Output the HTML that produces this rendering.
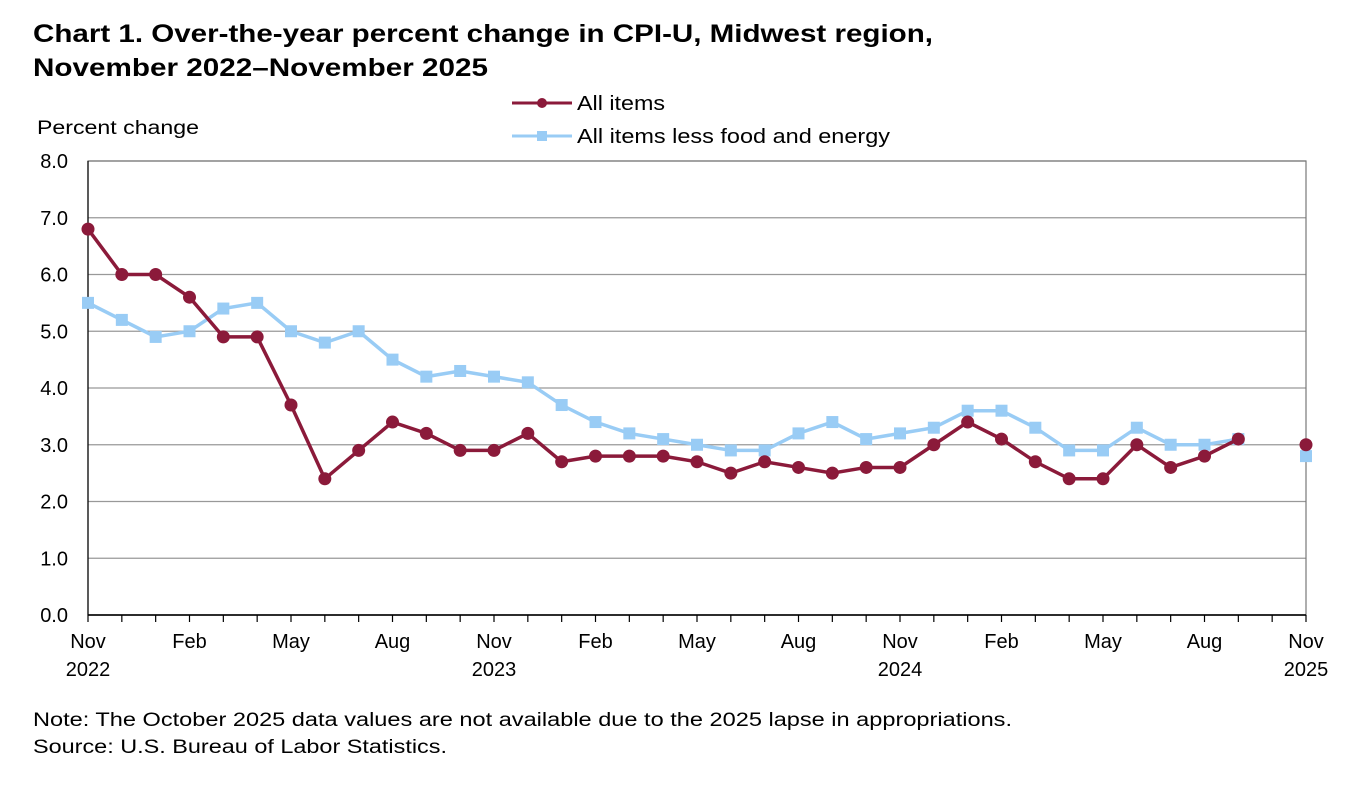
<!DOCTYPE html>
<html><head><meta charset="utf-8"><style>
body{margin:0;background:#fff;width:1366px;height:784px;overflow:hidden;font-family:"Liberation Sans",Arial,sans-serif}
</style></head><body>
<svg width="1366" height="784" font-family="Liberation Sans, Arial, sans-serif">
<text x="33" y="42" font-size="25" font-weight="bold" fill="#000" textLength="900" lengthAdjust="spacingAndGlyphs">Chart 1. Over-the-year percent change in CPI-U, Midwest region,</text>
<text x="33" y="76" font-size="25" font-weight="bold" fill="#000" textLength="455" lengthAdjust="spacingAndGlyphs">November 2022–November 2025</text>
<text x="37" y="134" font-size="19" textLength="162" lengthAdjust="spacingAndGlyphs">Percent change</text>
<g>
<g><line x1="512" y1="103" x2="572" y2="103" stroke="#8b1a3a" stroke-width="3"/><circle cx="542" cy="103" r="5" fill="#8b1a3a"/><text x="577" y="110" font-size="20" textLength="88" lengthAdjust="spacingAndGlyphs">All items</text></g>
<g><line x1="512" y1="136" x2="572" y2="136" stroke="#99ccf5" stroke-width="3"/><rect x="537" y="131" width="10" height="10" fill="#99ccf5"/><text x="577" y="143" font-size="20" textLength="313" lengthAdjust="spacingAndGlyphs">All items less food and energy</text></g>
</g>
<g id="grid"></g><g id="axes"></g><g id="series"></g>
<text x="33" y="726" font-size="19" textLength="979" lengthAdjust="spacingAndGlyphs">Note: The October 2025 data values are not available due to the 2025 lapse in appropriations.</text>
<text x="33" y="753" font-size="19" textLength="414" lengthAdjust="spacingAndGlyphs">Source: U.S. Bureau of Labor Statistics.</text>
</svg>
<script>
const allItems=[6.8,6.0,6.0,5.6,4.9,4.9,3.7,2.4,2.9,3.4,3.2,2.9,2.9,3.2,2.7,2.8,2.8,2.8,2.7,2.5,2.7,2.6,2.5,2.6,2.6,3.0,3.4,3.1,2.7,2.4,2.4,3.0,2.6,2.8,3.1,null,3.0];
const coreItems=[5.5,5.2,4.9,5.0,5.4,5.5,5.0,4.8,5.0,4.5,4.2,4.3,4.2,4.1,3.7,3.4,3.2,3.1,3.0,2.9,2.9,3.2,3.4,3.1,3.2,3.3,3.6,3.6,3.3,2.9,2.9,3.3,3.0,3.0,3.1,null,2.8];
const yTicks=["0.0","1.0","2.0","3.0","4.0","5.0","6.0","7.0","8.0"];
const xLabels=[[0,"Nov","2022"],[3,"Feb",""],[6,"May",""],[9,"Aug",""],[12,"Nov","2023"],[15,"Feb",""],[18,"May",""],[21,"Aug",""],[24,"Nov","2024"],[27,"Feb",""],[30,"May",""],[33,"Aug",""],[36,"Nov","2025"]];
const NS="http://www.w3.org/2000/svg";
const L=88,R=1306,T=161,B=615,N=36,YMAX=8;
const xs=i=>L+(R-L)*i/N, ys=v=>B-(B-T)*v/YMAX;
function mk(t,a,p){const e=document.createElementNS(NS,t);for(const k in a)e.setAttribute(k,a[k]);p.appendChild(e);return e;}
const grid=document.getElementById('grid'),axes=document.getElementById('axes'),ser=document.getElementById('series');
yTicks.forEach(t=>{const v=parseFloat(t),y=ys(v);
 const g=mk('line',{x1:L,x2:R,y1:y,y2:y,stroke:v==0?'#000':'#999','stroke-width':1.2},grid);
 
 const tx=mk('text',{x:L-20,y:y+7,'text-anchor':'end','font-size':20},axes);tx.textContent=t;
 });
mk('rect',{x:L,y:T,width:R-L,height:B-T,fill:'none',stroke:'#777','stroke-width':1.2},grid);
mk('line',{x1:L,x2:L,y1:T,y2:B,stroke:'#000','stroke-width':1.2},axes);
mk('line',{x1:L,x2:R,y1:B,y2:B,stroke:'#000','stroke-width':1.5},axes);
for(let i=0;i<=N;i++)mk('line',{x1:xs(i),x2:xs(i),y1:B,y2:B+7,stroke:'#000','stroke-width':1.2},axes);
xLabels.forEach(([i,m,yr])=>{const t=mk('text',{x:xs(i),y:648,'text-anchor':'middle','font-size':20},axes);t.textContent=m;
 
 if(yr){const t2=mk('text',{x:xs(i),y:676,'text-anchor':'middle','font-size':20},axes);t2.textContent=yr;
 }});
function path(arr){let d='',pen=false;arr.forEach((v,i)=>{if(v==null){pen=false;return;}d+=(pen?'L':'M')+xs(i)+' '+ys(v)+' ';pen=true;});return d;}
const pc=mk('path',{d:path(coreItems),fill:'none',stroke:'#99ccf5','stroke-width':3.5},ser);

coreItems.forEach((v,i)=>{if(v==null)return;const r=mk('rect',{x:xs(i)-6,y:ys(v)-6,width:12,height:12,fill:'#99ccf5'},ser);
 });
const pa=mk('path',{d:path(allItems),fill:'none',stroke:'#8b1a3a','stroke-width':3.5},ser);

allItems.forEach((v,i)=>{if(v==null)return;const c=mk('circle',{cx:xs(i),cy:ys(v),r:6.5,fill:'#8b1a3a'},ser);
 });
</script>
</body></html>
